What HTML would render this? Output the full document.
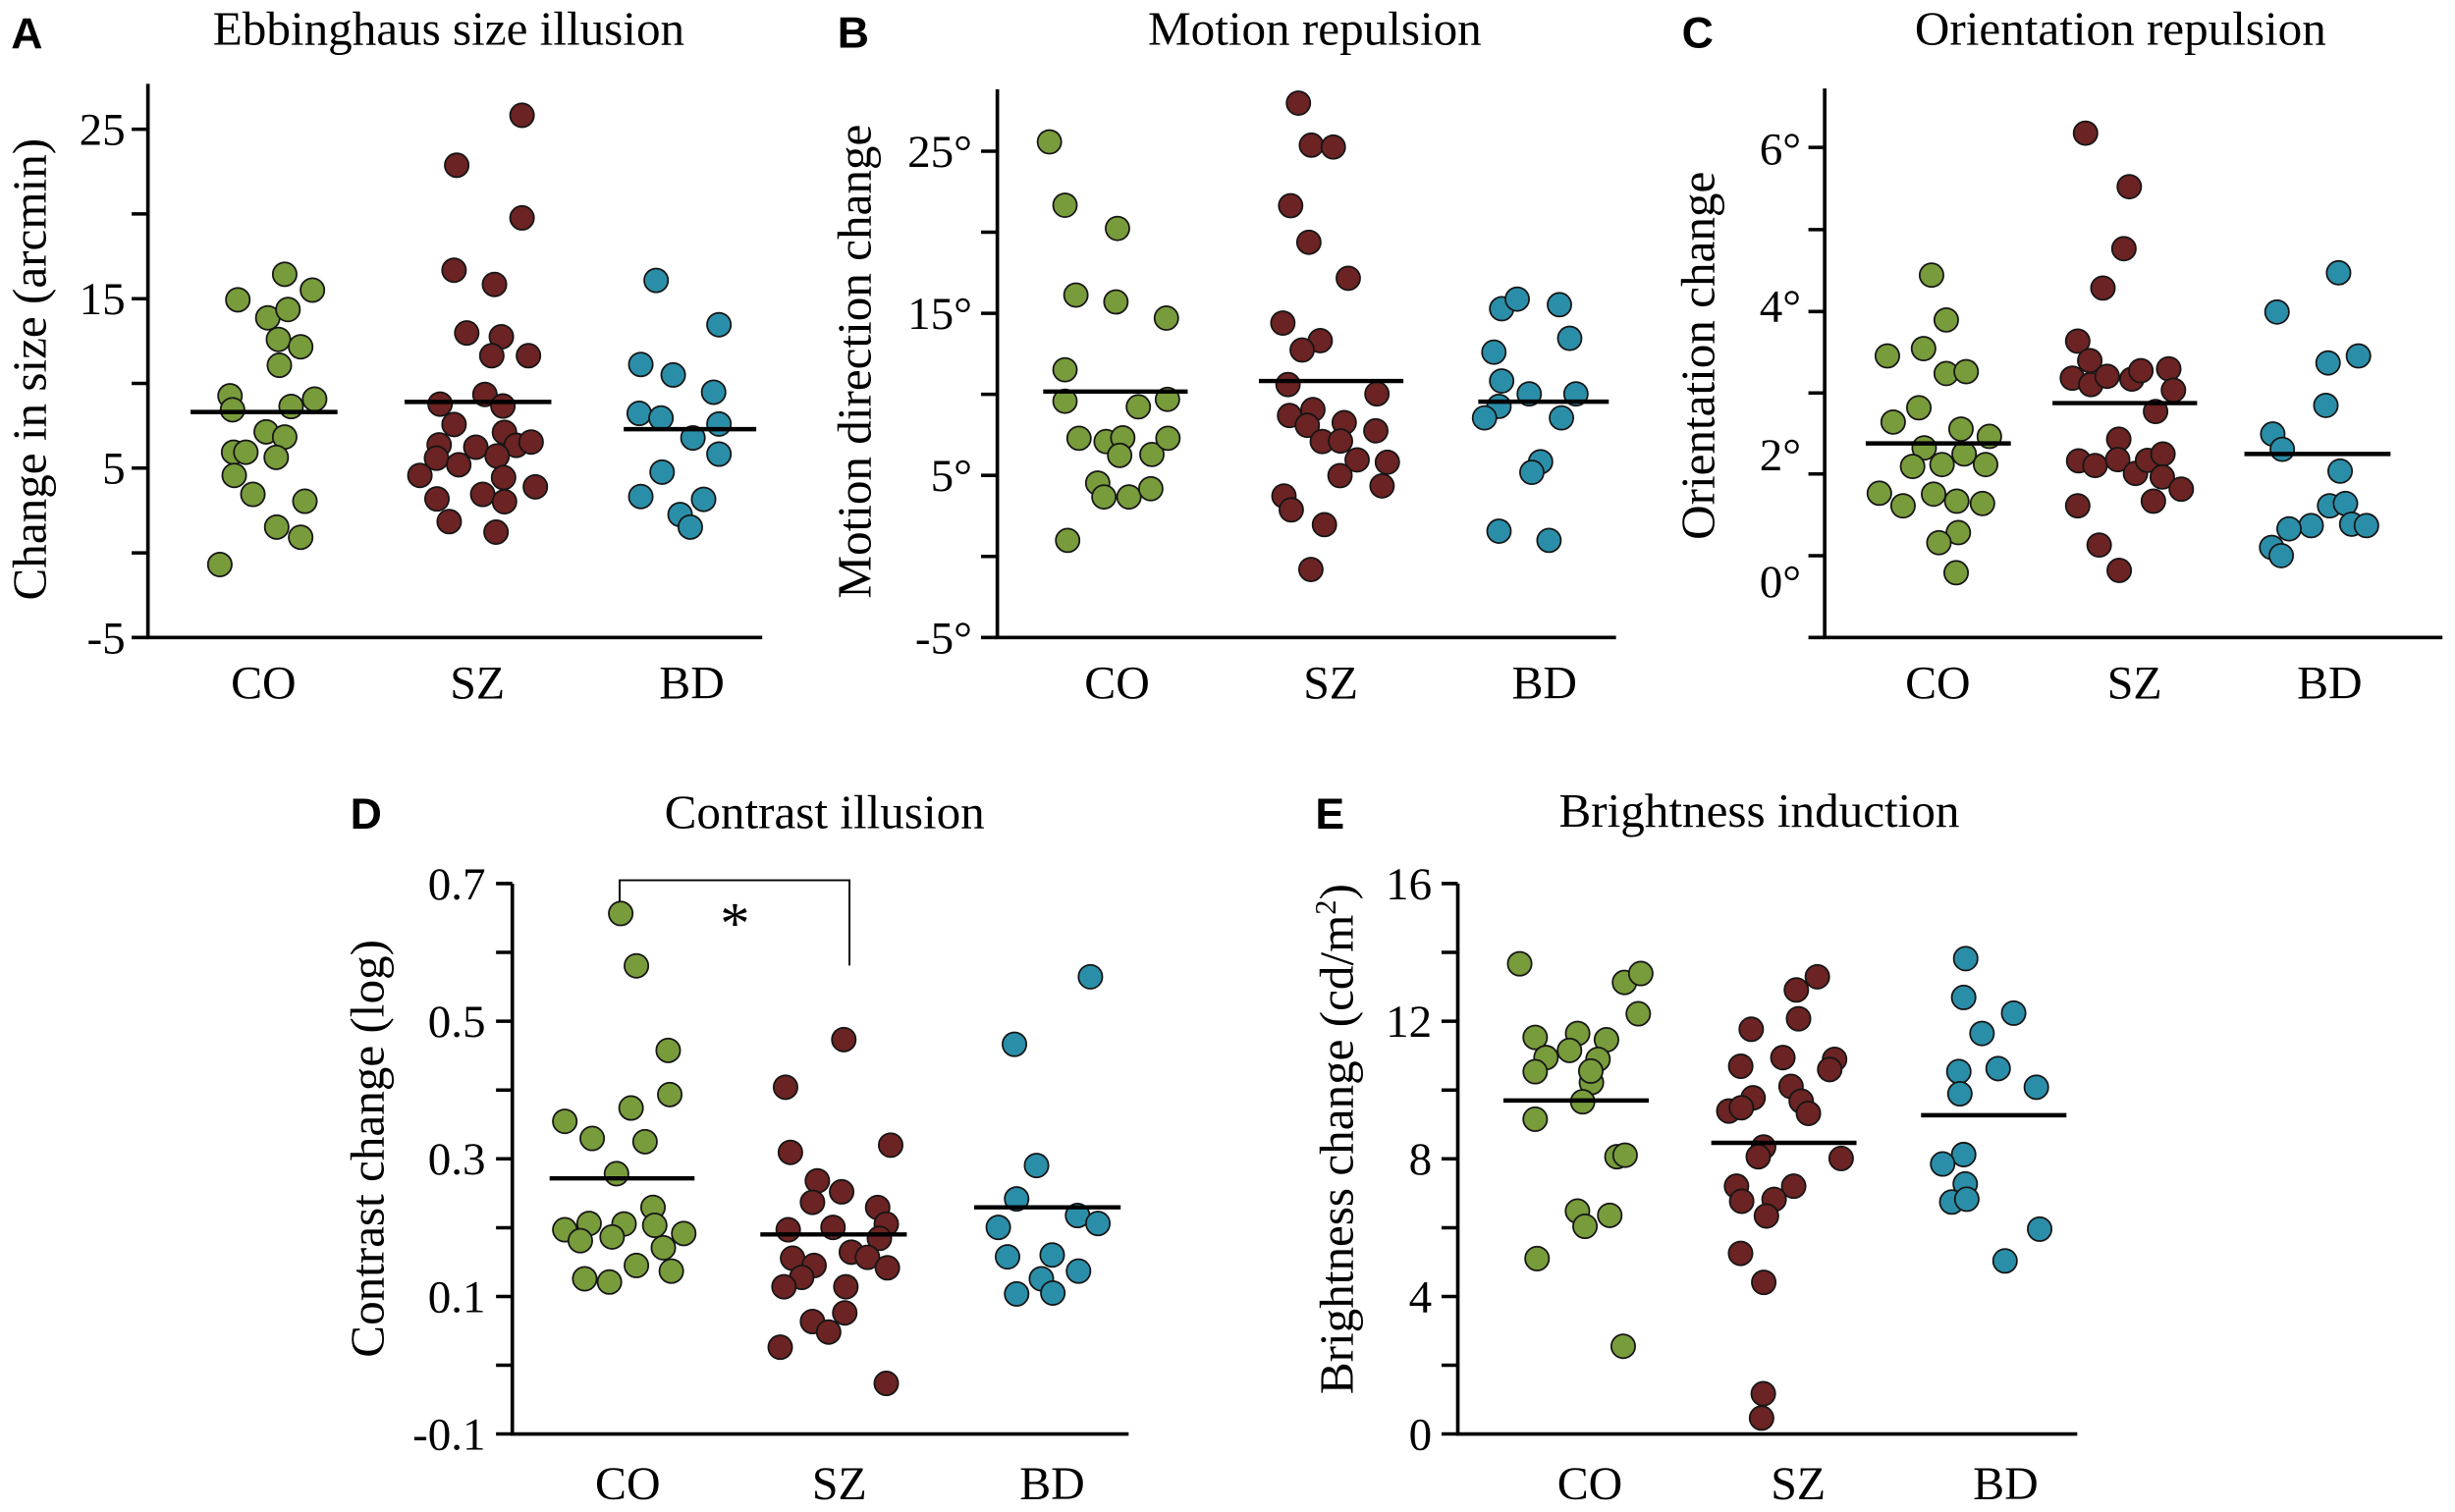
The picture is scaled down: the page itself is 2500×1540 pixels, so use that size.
<!DOCTYPE html>
<html><head><meta charset="utf-8"><style>
html,body{margin:0;padding:0;background:#fff;}
svg{display:block;}
</style></head><body>
<svg xmlns="http://www.w3.org/2000/svg" width="2500" height="1540" viewBox="0 0 1567 965.3">
<style>
text{font-family:"Liberation Serif",serif;fill:#000;}
.tk{font-size:29.5px;text-anchor:end;}
.cat{font-size:30px;text-anchor:middle;}
.ttl{font-size:30.8px;text-anchor:middle;}
.yl{font-size:30.8px;text-anchor:middle;}
.let{font-family:"Liberation Sans",sans-serif;font-weight:bold;font-size:28px;}
.ax{fill:none;stroke:#000;stroke-width:2.3;}
.tick{stroke:#000;stroke-width:2.2;}
.mean{stroke:#000;stroke-width:2.8;}
.g{fill:#789b3b;stroke:#151515;stroke-width:1.1;}
.r{fill:#6b2323;stroke:#151515;stroke-width:1.1;}
.b{fill:#2b8ea8;stroke:#151515;stroke-width:1.1;}
</style>
<rect width="1567" height="965.3" fill="#fff"/>

<!-- ================= PANEL A ================= -->
<text class="let" x="7" y="31">A</text>
<text class="ttl" x="286.4" y="28.5">Ebbinghaus size illusion</text>
<text class="yl" transform="translate(29,235.8) rotate(-90)">Change in size (arcmin)</text>
<path class="ax" d="M94.4,53.5 V407 H486.5"/>
<g class="tick">
<line x1="84" x2="94.4" y1="82.5" y2="82.5"/><line x1="84" x2="94.4" y1="136.6" y2="136.6"/>
<line x1="84" x2="94.4" y1="190.7" y2="190.7"/><line x1="84" x2="94.4" y1="244.8" y2="244.8"/>
<line x1="84" x2="94.4" y1="298.8" y2="298.8"/><line x1="84" x2="94.4" y1="353" y2="353"/>
<line x1="84" x2="94.4" y1="407" y2="407"/>
</g>
<text class="tk" x="80" y="92.5">25</text>
<text class="tk" x="80" y="200.7">15</text>
<text class="tk" x="80" y="308.8">5</text>
<text class="tk" x="80" y="417">-5</text>
<text class="cat" x="168.2" y="446">CO</text>
<text class="cat" x="304.7" y="446">SZ</text>
<text class="cat" x="441.6" y="446">BD</text>
<g>
<circle class="g" cx="151.8" cy="191.4" r="7.6"/><circle class="g" cx="181.7" cy="175.1" r="7.6"/><circle class="g" cx="199.4" cy="185.2" r="7.6"/><circle class="g" cx="170.9" cy="202.9" r="7.6"/><circle class="g" cx="183.8" cy="197.6" r="7.6"/><circle class="g" cx="177.7" cy="216.7" r="7.6"/><circle class="g" cx="191.9" cy="221.4" r="7.6"/><circle class="g" cx="178.3" cy="233.2" r="7.6"/><circle class="g" cx="146.8" cy="252.7" r="7.6"/><circle class="g" cx="148.4" cy="261.6" r="7.6"/><circle class="g" cx="185.8" cy="259.5" r="7.6"/><circle class="g" cx="200.8" cy="254.8" r="7.6"/><circle class="g" cx="169.9" cy="275.7" r="7.6"/><circle class="g" cx="181.7" cy="279" r="7.6"/><circle class="g" cx="149.1" cy="288.7" r="7.6"/><circle class="g" cx="156.9" cy="288.7" r="7.6"/><circle class="g" cx="176.3" cy="292" r="7.6"/><circle class="g" cx="149.5" cy="303.5" r="7.6"/><circle class="g" cx="161.4" cy="315.6" r="7.6"/><circle class="g" cx="194.6" cy="320" r="7.6"/><circle class="g" cx="176.6" cy="336.5" r="7.6"/><circle class="g" cx="191.9" cy="343" r="7.6"/><circle class="g" cx="140.3" cy="360.4" r="7.6"/>
<circle class="r" cx="333.2" cy="73.6" r="7.6"/><circle class="r" cx="291.5" cy="105.5" r="7.6"/><circle class="r" cx="333.2" cy="139.1" r="7.6"/><circle class="r" cx="289.8" cy="172.5" r="7.6"/><circle class="r" cx="315.6" cy="181.6" r="7.6"/><circle class="r" cx="297.9" cy="212.6" r="7.6"/><circle class="r" cx="320" cy="215" r="7.6"/><circle class="r" cx="313.9" cy="227.1" r="7.6"/><circle class="r" cx="337.3" cy="227.1" r="7.6"/><circle class="r" cx="309.5" cy="251.8" r="7.6"/><circle class="r" cx="280.9" cy="258" r="7.6"/><circle class="r" cx="321" cy="259.2" r="7.6"/><circle class="r" cx="289.8" cy="271" r="7.6"/><circle class="r" cx="322" cy="276" r="7.6"/><circle class="r" cx="280.3" cy="284" r="7.6"/><circle class="r" cx="303.7" cy="285.5" r="7.6"/><circle class="r" cx="329.5" cy="284.3" r="7.6"/><circle class="r" cx="339" cy="282.2" r="7.6"/><circle class="r" cx="278.6" cy="292.5" r="7.6"/><circle class="r" cx="292.8" cy="296.7" r="7.6"/><circle class="r" cx="317.3" cy="291.1" r="7.6"/><circle class="r" cx="268" cy="303.5" r="7.6"/><circle class="r" cx="321.4" cy="304.9" r="7.6"/><circle class="r" cx="341.7" cy="310.8" r="7.6"/><circle class="r" cx="278.9" cy="318.5" r="7.6"/><circle class="r" cx="308.1" cy="315.6" r="7.6"/><circle class="r" cx="322" cy="320.3" r="7.6"/><circle class="r" cx="286.7" cy="333" r="7.6"/><circle class="r" cx="316.6" cy="339.7" r="7.6"/>
<circle class="b" cx="418.8" cy="179" r="7.6"/><circle class="b" cx="458.9" cy="207.3" r="7.6"/><circle class="b" cx="409" cy="232.7" r="7.6"/><circle class="b" cx="429.7" cy="239.4" r="7.6"/><circle class="b" cx="455.5" cy="250.4" r="7.6"/><circle class="b" cx="408" cy="263.9" r="7.6"/><circle class="b" cx="421.9" cy="266.9" r="7.6"/><circle class="b" cx="458.9" cy="270.7" r="7.6"/><circle class="b" cx="442.3" cy="279.6" r="7.6"/><circle class="b" cx="458.9" cy="289.9" r="7.6"/><circle class="b" cx="422.6" cy="301.4" r="7.6"/><circle class="b" cx="409" cy="317" r="7.6"/><circle class="b" cx="449.1" cy="318.8" r="7.6"/><circle class="b" cx="434.1" cy="328.5" r="7.6"/><circle class="b" cx="440.6" cy="336.5" r="7.6"/>
</g>
<line class="mean" x1="121.6" x2="215.4" y1="263" y2="263"/>
<line class="mean" x1="258.2" x2="351.9" y1="256.6" y2="256.6"/>
<line class="mean" x1="398.1" x2="482.7" y1="274" y2="274"/>

<!-- ================= PANEL B ================= -->
<text class="let" x="534.5" y="30.5">B</text>
<text class="ttl" x="839.2" y="28.5">Motion repulsion</text>
<text class="yl" transform="translate(555.7,230.8) rotate(-90)">Motion direction change</text>
<path class="ax" d="M636.6,57 V407 H1031.5"/>
<g class="tick">
<line x1="626.2" x2="636.6" y1="96.5" y2="96.5"/><line x1="626.2" x2="636.6" y1="148.25" y2="148.25"/>
<line x1="626.2" x2="636.6" y1="200" y2="200"/><line x1="626.2" x2="636.6" y1="251.75" y2="251.75"/>
<line x1="626.2" x2="636.6" y1="303.5" y2="303.5"/><line x1="626.2" x2="636.6" y1="355.25" y2="355.25"/>
<line x1="626.2" x2="636.6" y1="407" y2="407"/>
</g>
<text class="tk" x="620.5" y="106.5">25°</text>
<text class="tk" x="620.5" y="210">15°</text>
<text class="tk" x="620.5" y="313.5">5°</text>
<text class="tk" x="620.5" y="417">-5°</text>
<text class="cat" x="713" y="446">CO</text>
<text class="cat" x="849.4" y="446">SZ</text>
<text class="cat" x="985.8" y="446">BD</text>
<g transform="matrix(0.99401,0,0,0.99377,3.154,2.536)">
<circle class="g" cx="670.7" cy="88.6" r="7.6"/><circle class="g" cx="680.7" cy="129.3" r="7.6"/><circle class="g" cx="714.4" cy="144.2" r="7.6"/><circle class="g" cx="687.7" cy="187" r="7.6"/><circle class="g" cx="713.4" cy="191.4" r="7.6"/><circle class="g" cx="745.8" cy="201.8" r="7.6"/><circle class="g" cx="680.7" cy="235" r="7.6"/><circle class="g" cx="680.7" cy="255.2" r="7.6"/><circle class="g" cx="727.8" cy="258.8" r="7.6"/><circle class="g" cx="746.5" cy="254" r="7.6"/><circle class="g" cx="689.7" cy="279" r="7.6"/><circle class="g" cx="707.1" cy="281.1" r="7.6"/><circle class="g" cx="717.8" cy="278.7" r="7.6"/><circle class="g" cx="715.8" cy="290" r="7.6"/><circle class="g" cx="736.5" cy="289.4" r="7.6"/><circle class="g" cx="746.8" cy="279" r="7.6"/><circle class="g" cx="701.7" cy="307.8" r="7.6"/><circle class="g" cx="705.7" cy="316.7" r="7.6"/><circle class="g" cx="721.8" cy="316.7" r="7.6"/><circle class="g" cx="735.8" cy="311.4" r="7.6"/><circle class="g" cx="682.4" cy="344.6" r="7.6"/>
<circle class="r" cx="830.6" cy="63.7" r="7.6"/><circle class="r" cx="838.9" cy="90.7" r="7.6"/><circle class="r" cx="853" cy="91.9" r="7.6"/><circle class="r" cx="825.6" cy="129.6" r="7.6"/><circle class="r" cx="837.3" cy="153.1" r="7.6"/><circle class="r" cx="862.6" cy="176.2" r="7.6"/><circle class="r" cx="820.6" cy="205" r="7.6"/><circle class="r" cx="844.6" cy="216.3" r="7.6"/><circle class="r" cx="833" cy="222.3" r="7.6"/><circle class="r" cx="823.9" cy="244.5" r="7.6"/><circle class="r" cx="881" cy="250.5" r="7.6"/><circle class="r" cx="839.9" cy="260.6" r="7.6"/><circle class="r" cx="824.9" cy="264.4" r="7.6"/><circle class="r" cx="836.3" cy="270.7" r="7.6"/><circle class="r" cx="860" cy="268.9" r="7.6"/><circle class="r" cx="880.3" cy="274.2" r="7.6"/><circle class="r" cx="845.9" cy="281.1" r="7.6"/><circle class="r" cx="857.6" cy="280.8" r="7.6"/><circle class="r" cx="868.3" cy="292.9" r="7.6"/><circle class="r" cx="887.7" cy="294.4" r="7.6"/><circle class="r" cx="857.3" cy="303" r="7.6"/><circle class="r" cx="884.3" cy="309.6" r="7.6"/><circle class="r" cx="821.3" cy="316.1" r="7.6"/><circle class="r" cx="826" cy="325" r="7.6"/><circle class="r" cx="847.3" cy="334.5" r="7.6"/><circle class="r" cx="838.6" cy="363.3" r="7.6"/>
<circle class="b" cx="961.1" cy="195.8" r="7.6"/><circle class="b" cx="971.1" cy="189.6" r="7.6"/><circle class="b" cx="998.2" cy="193.2" r="7.6"/><circle class="b" cx="1004.8" cy="214.8" r="7.6"/><circle class="b" cx="956.1" cy="223.7" r="7.6"/><circle class="b" cx="961.1" cy="242.2" r="7.6"/><circle class="b" cx="978.8" cy="250.5" r="7.6"/><circle class="b" cx="1008.8" cy="250.5" r="7.6"/><circle class="b" cx="959.4" cy="258.5" r="7.6"/><circle class="b" cx="950.1" cy="265.9" r="7.6"/><circle class="b" cx="999.5" cy="265.9" r="7.6"/><circle class="b" cx="986.1" cy="294.1" r="7.6"/><circle class="b" cx="980.5" cy="300.9" r="7.6"/><circle class="b" cx="959.4" cy="338.7" r="7.6"/><circle class="b" cx="991.5" cy="344.6" r="7.6"/>
<line class="mean" x1="666.7" x2="759.5" y1="249" y2="249"/>
<line class="mean" x1="805.2" x2="898" y1="242.2" y2="242.2"/>
<line class="mean" x1="946.1" x2="1029.9" y1="255.5" y2="255.5"/>
</g>

<!-- ================= PANEL C ================= -->
<text class="let" x="1073.5" y="30.5">C</text>
<text class="ttl" x="1353.5" y="28.5">Orientation repulsion</text>
<text class="yl" transform="translate(1094.2,227.1) rotate(-90)">Orientation change</text>
<path class="ax" d="M1164.7,56.5 V407 H1559"/>
<g class="tick">
<line x1="1154.3" x2="1164.7" y1="94.1" y2="94.1"/><line x1="1154.3" x2="1164.7" y1="146.6" y2="146.6"/>
<line x1="1154.3" x2="1164.7" y1="198.9" y2="198.9"/><line x1="1154.3" x2="1164.7" y1="250.9" y2="250.9"/>
<line x1="1154.3" x2="1164.7" y1="302.6" y2="302.6"/><line x1="1154.3" x2="1164.7" y1="354.8" y2="354.8"/>
<line x1="1154.3" x2="1164.7" y1="407" y2="407"/>
</g>
<text class="tk" x="1149.6" y="105">6°</text>
<text class="tk" x="1149.6" y="205.4">4°</text>
<text class="tk" x="1149.6" y="300.4">2°</text>
<text class="tk" x="1149.6" y="381">0°</text>
<text class="cat" x="1236.9" y="446">CO</text>
<text class="cat" x="1362.5" y="446">SZ</text>
<text class="cat" x="1487" y="446">BD</text>
<g transform="matrix(1,0,0,0.99377,0,2.536)">
<circle class="g" cx="1232.9" cy="174.2" r="7.6"/><circle class="g" cx="1242.3" cy="203" r="7.6"/><circle class="g" cx="1204.7" cy="226.1" r="7.6"/><circle class="g" cx="1227.8" cy="221.4" r="7.6"/><circle class="g" cx="1242.3" cy="237.4" r="7.6"/><circle class="g" cx="1255" cy="236.2" r="7.6"/><circle class="g" cx="1224.8" cy="259.4" r="7.6"/><circle class="g" cx="1208.4" cy="268.6" r="7.6"/><circle class="g" cx="1251.7" cy="273.1" r="7.6"/><circle class="g" cx="1269.8" cy="277.8" r="7.6"/><circle class="g" cx="1228.2" cy="285.2" r="7.6"/><circle class="g" cx="1253.7" cy="289.1" r="7.6"/><circle class="g" cx="1220.8" cy="297.1" r="7.6"/><circle class="g" cx="1239.6" cy="295.9" r="7.6"/><circle class="g" cx="1267.4" cy="295.9" r="7.6"/><circle class="g" cx="1199.6" cy="314.3" r="7.6"/><circle class="g" cx="1214.7" cy="322.4" r="7.6"/><circle class="g" cx="1234.2" cy="314.9" r="7.6"/><circle class="g" cx="1249" cy="319.4" r="7.6"/><circle class="g" cx="1265.4" cy="320.9" r="7.6"/><circle class="g" cx="1250" cy="339.6" r="7.6"/><circle class="g" cx="1237.6" cy="346.1" r="7.6"/><circle class="g" cx="1248.6" cy="365.4" r="7.6"/>
<circle class="r" cx="1331.2" cy="83" r="7.6"/><circle class="r" cx="1359.1" cy="117.4" r="7.6"/><circle class="r" cx="1355.7" cy="157.2" r="7.6"/><circle class="r" cx="1342.3" cy="182.5" r="7.6"/><circle class="r" cx="1326.2" cy="216.6" r="7.6"/><circle class="r" cx="1333.9" cy="229.1" r="7.6"/><circle class="r" cx="1322.8" cy="240.4" r="7.6"/><circle class="r" cx="1334.6" cy="244.5" r="7.6"/><circle class="r" cx="1345" cy="239.2" r="7.6"/><circle class="r" cx="1360.8" cy="241" r="7.6"/><circle class="r" cx="1366.5" cy="235.6" r="7.6"/><circle class="r" cx="1384.3" cy="234.4" r="7.6"/><circle class="r" cx="1387.3" cy="248.1" r="7.6"/><circle class="r" cx="1375.9" cy="261.8" r="7.6"/><circle class="r" cx="1352.4" cy="279.6" r="7.6"/><circle class="r" cx="1326.8" cy="293.5" r="7.6"/><circle class="r" cx="1337.3" cy="296.5" r="7.6"/><circle class="r" cx="1351.7" cy="292.7" r="7.6"/><circle class="r" cx="1363.1" cy="301.6" r="7.6"/><circle class="r" cx="1370.8" cy="293.2" r="7.6"/><circle class="r" cx="1380.6" cy="289.1" r="7.6"/><circle class="r" cx="1380.2" cy="303.9" r="7.6"/><circle class="r" cx="1392.3" cy="311.7" r="7.6"/><circle class="r" cx="1326.2" cy="322.4" r="7.6"/><circle class="r" cx="1374.5" cy="319.4" r="7.6"/><circle class="r" cx="1339.9" cy="347.6" r="7.6"/><circle class="r" cx="1352.7" cy="363.9" r="7.6"/>
<circle class="b" cx="1492.7" cy="172.7" r="7.6"/><circle class="b" cx="1453.4" cy="197.9" r="7.6"/><circle class="b" cx="1505.4" cy="226.1" r="7.6"/><circle class="b" cx="1486" cy="230.6" r="7.6"/><circle class="b" cx="1484.6" cy="257.9" r="7.6"/><circle class="b" cx="1450.7" cy="276.3" r="7.6"/><circle class="b" cx="1456.8" cy="286.1" r="7.6"/><circle class="b" cx="1493.7" cy="300.1" r="7.6"/><circle class="b" cx="1487" cy="322.4" r="7.6"/><circle class="b" cx="1497.1" cy="320.9" r="7.6"/><circle class="b" cx="1475.2" cy="335.1" r="7.6"/><circle class="b" cx="1461.1" cy="337.2" r="7.6"/><circle class="b" cx="1501.1" cy="334.2" r="7.6"/><circle class="b" cx="1510.5" cy="335.1" r="7.6"/><circle class="b" cx="1450" cy="349.1" r="7.6"/><circle class="b" cx="1456.1" cy="354.4" r="7.6"/>
<line class="mean" x1="1190.9" x2="1283.5" y1="282.3" y2="282.3"/>
<line class="mean" x1="1310.1" x2="1402.4" y1="256.4" y2="256.4"/>
<line class="mean" x1="1432.6" x2="1525.9" y1="289.1" y2="289.1"/>
</g>

<!-- ================= PANEL D ================= -->
<text class="let" x="223.5" y="529">D</text>
<text class="ttl" x="526.3" y="528.6">Contrast illusion</text>
<text class="yl" transform="translate(244.6,733.3) rotate(-90)">Contrast change (log)</text>
<path class="ax" d="M327,564.1 V915.5 H720.4"/>
<g class="tick">
<line x1="316.6" x2="327" y1="564.1" y2="564.1"/><line x1="316.6" x2="327" y1="608" y2="608"/>
<line x1="316.6" x2="327" y1="652" y2="652"/><line x1="316.6" x2="327" y1="695.9" y2="695.9"/>
<line x1="316.6" x2="327" y1="739.8" y2="739.8"/><line x1="316.6" x2="327" y1="783.8" y2="783.8"/>
<line x1="316.6" x2="327" y1="827.7" y2="827.7"/><line x1="316.6" x2="327" y1="871.6" y2="871.6"/>
<line x1="316.6" x2="327" y1="915.5" y2="915.5"/>
</g>
<text class="tk" x="310" y="574.1">0.7</text>
<text class="tk" x="310" y="662">0.5</text>
<text class="tk" x="310" y="749.8">0.3</text>
<text class="tk" x="310" y="837.7">0.1</text>
<text class="tk" x="310" y="925.5">-0.1</text>
<text class="cat" x="400.7" y="957">CO</text>
<text class="cat" x="535.8" y="957">SZ</text>
<text class="cat" x="671.6" y="957">BD</text>
<path d="M395.5,575.6 V562 H542.2 V616.4" fill="none" stroke="#000" stroke-width="1.2"/>
<text x="469.1" y="602" style="font-size:38px;text-anchor:middle;">*</text>
<g>
<circle class="g" cx="396.2" cy="583.2" r="7.6"/><circle class="g" cx="406.2" cy="616.6" r="7.6"/><circle class="g" cx="426.5" cy="670.6" r="7.6"/><circle class="g" cx="427.5" cy="698.8" r="7.6"/><circle class="g" cx="402.8" cy="707.4" r="7.6"/><circle class="g" cx="360.5" cy="715.9" r="7.6"/><circle class="g" cx="378" cy="726.8" r="7.6"/><circle class="g" cx="411.7" cy="728.9" r="7.6"/><circle class="g" cx="393.5" cy="749.3" r="7.6"/><circle class="g" cx="416.8" cy="770.8" r="7.6"/><circle class="g" cx="360.5" cy="785.1" r="7.6"/><circle class="g" cx="376" cy="781.1" r="7.6"/><circle class="g" cx="398.3" cy="781.4" r="7.6"/><circle class="g" cx="417.9" cy="782.3" r="7.6"/><circle class="g" cx="436.4" cy="787.5" r="7.6"/><circle class="g" cx="370.4" cy="792.1" r="7.6"/><circle class="g" cx="390.7" cy="789.7" r="7.6"/><circle class="g" cx="423.4" cy="796.6" r="7.6"/><circle class="g" cx="406.2" cy="807.9" r="7.6"/><circle class="g" cx="428.5" cy="811.5" r="7.6"/><circle class="g" cx="373.2" cy="816.4" r="7.6"/><circle class="g" cx="389" cy="818.5" r="7.6"/>
<circle class="r" cx="538.6" cy="663.7" r="7.6"/><circle class="r" cx="501.4" cy="694.1" r="7.6"/><circle class="r" cx="568.5" cy="731.1" r="7.6"/><circle class="r" cx="504.5" cy="735.7" r="7.6"/><circle class="r" cx="521.7" cy="753.9" r="7.6"/><circle class="r" cx="537.2" cy="760.9" r="7.6"/><circle class="r" cx="518.6" cy="767.6" r="7.6"/><circle class="r" cx="560.2" cy="770.9" r="7.6"/><circle class="r" cx="503.1" cy="785.1" r="7.6"/><circle class="r" cx="531.7" cy="783.6" r="7.6"/><circle class="r" cx="565.7" cy="781.5" r="7.6"/><circle class="r" cx="561.3" cy="790.6" r="7.6"/><circle class="r" cx="505.9" cy="803.3" r="7.6"/><circle class="r" cx="543.4" cy="799.4" r="7.6"/><circle class="r" cx="553.7" cy="802.7" r="7.6"/><circle class="r" cx="519.6" cy="807.9" r="7.6"/><circle class="r" cx="566.4" cy="809.4" r="7.6"/><circle class="r" cx="511.7" cy="815.5" r="7.6"/><circle class="r" cx="500.4" cy="821.5" r="7.6"/><circle class="r" cx="539.9" cy="821.5" r="7.6"/><circle class="r" cx="539.2" cy="838.2" r="7.6"/><circle class="r" cx="518.6" cy="843.7" r="7.6"/><circle class="r" cx="528.9" cy="850.4" r="7.6"/><circle class="r" cx="498" cy="860.1" r="7.6"/><circle class="r" cx="565.7" cy="883.2" r="7.6"/>
<circle class="b" cx="696" cy="623.6" r="7.6"/><circle class="b" cx="647.5" cy="666.7" r="7.6"/><circle class="b" cx="661.6" cy="744.1" r="7.6"/><circle class="b" cx="648.9" cy="765.4" r="7.6"/><circle class="b" cx="637.2" cy="783.6" r="7.6"/><circle class="b" cx="687.8" cy="776" r="7.6"/><circle class="b" cx="700.8" cy="781.1" r="7.6"/><circle class="b" cx="643.1" cy="802.4" r="7.6"/><circle class="b" cx="671.6" cy="801.2" r="7.6"/><circle class="b" cx="688.4" cy="811.5" r="7.6"/><circle class="b" cx="664.7" cy="816.4" r="7.6"/><circle class="b" cx="648.9" cy="826.1" r="7.6"/><circle class="b" cx="672" cy="825.5" r="7.6"/>
</g>
<line class="mean" x1="350.8" x2="443.3" y1="752.3" y2="752.3"/>
<line class="mean" x1="485.3" x2="578.8" y1="788.1" y2="788.1"/>
<line class="mean" x1="621.8" x2="715.3" y1="770.8" y2="770.8"/>

<!-- ================= PANEL E ================= -->
<text class="let" x="839.5" y="529">E</text>
<text class="ttl" x="1122.9" y="527.8">Brightness induction</text>
<text class="yl" transform="translate(863.5,727.2) rotate(-90)">Brightness change (cd/m<tspan dy="-11" style="font-size:19px">2</tspan><tspan dy="11">)</tspan></text>
<path class="ax" d="M930.5,564.1 V915.5 H1325.9"/>
<g class="tick">
<line x1="920.1" x2="930.5" y1="564.1" y2="564.1"/><line x1="920.1" x2="930.5" y1="608" y2="608"/>
<line x1="920.1" x2="930.5" y1="652" y2="652"/><line x1="920.1" x2="930.5" y1="695.9" y2="695.9"/>
<line x1="920.1" x2="930.5" y1="739.8" y2="739.8"/><line x1="920.1" x2="930.5" y1="783.8" y2="783.8"/>
<line x1="920.1" x2="930.5" y1="827.7" y2="827.7"/><line x1="920.1" x2="930.5" y1="871.6" y2="871.6"/>
<line x1="920.1" x2="930.5" y1="915.5" y2="915.5"/>
</g>
<text class="tk" x="914" y="574.1">16</text>
<text class="tk" x="914" y="662">12</text>
<text class="tk" x="914" y="749.8">8</text>
<text class="tk" x="914" y="837.7">4</text>
<text class="tk" x="914" y="925.5">0</text>
<text class="cat" x="1014.8" y="957">CO</text>
<text class="cat" x="1147.8" y="957">SZ</text>
<text class="cat" x="1280.2" y="957">BD</text>
<g>
<circle class="g" cx="970" cy="615.3" r="7.6"/><circle class="g" cx="1036.9" cy="627.2" r="7.6"/><circle class="g" cx="1047.3" cy="621.5" r="7.6"/><circle class="g" cx="1045.7" cy="647.2" r="7.6"/><circle class="g" cx="979.9" cy="662.3" r="7.6"/><circle class="g" cx="1007" cy="659.8" r="7.6"/><circle class="g" cx="1025.4" cy="663.8" r="7.6"/><circle class="g" cx="986.8" cy="675.2" r="7.6"/><circle class="g" cx="1001.8" cy="670.6" r="7.6"/><circle class="g" cx="1020" cy="676.3" r="7.6"/><circle class="g" cx="979.9" cy="684.2" r="7.6"/><circle class="g" cx="1015.8" cy="691.1" r="7.6"/><circle class="g" cx="1015.4" cy="683.8" r="7.6"/><circle class="g" cx="1010.2" cy="703.4" r="7.6"/><circle class="g" cx="979.9" cy="714.5" r="7.6"/><circle class="g" cx="1032.1" cy="738.5" r="7.6"/><circle class="g" cx="1037.3" cy="737.5" r="7.6"/><circle class="g" cx="1006.9" cy="773.2" r="7.6"/><circle class="g" cx="1027.5" cy="775.9" r="7.6"/><circle class="g" cx="1011.7" cy="782.9" r="7.6"/><circle class="g" cx="981.1" cy="803.5" r="7.6"/><circle class="g" cx="1036.1" cy="859.5" r="7.6"/>
<circle class="r" cx="1160" cy="623.6" r="7.6"/><circle class="r" cx="1146.6" cy="632" r="7.6"/><circle class="r" cx="1148" cy="650.4" r="7.6"/><circle class="r" cx="1117.8" cy="657.1" r="7.6"/><circle class="r" cx="1111.1" cy="680.7" r="7.6"/><circle class="r" cx="1138" cy="675.2" r="7.6"/><circle class="r" cx="1171" cy="676.3" r="7.6"/><circle class="r" cx="1167.9" cy="682.8" r="7.6"/><circle class="r" cx="1143.2" cy="693.6" r="7.6"/><circle class="r" cx="1149.7" cy="703" r="7.6"/><circle class="r" cx="1154.3" cy="710.8" r="7.6"/><circle class="r" cx="1119" cy="700.9" r="7.6"/><circle class="r" cx="1103.5" cy="709.3" r="7.6"/><circle class="r" cx="1111.5" cy="707.2" r="7.6"/><circle class="r" cx="1125.7" cy="732.3" r="7.6"/><circle class="r" cx="1122.3" cy="738.5" r="7.6"/><circle class="r" cx="1175.2" cy="739.6" r="7.6"/><circle class="r" cx="1108.4" cy="757.3" r="7.6"/><circle class="r" cx="1111.7" cy="766.9" r="7.6"/><circle class="r" cx="1144.9" cy="757.3" r="7.6"/><circle class="r" cx="1132.4" cy="765.7" r="7.6"/><circle class="r" cx="1127.5" cy="776.3" r="7.6"/><circle class="r" cx="1111" cy="800.2" r="7.6"/><circle class="r" cx="1125.8" cy="818.7" r="7.6"/><circle class="r" cx="1125.5" cy="889.8" r="7.6"/><circle class="r" cx="1124.4" cy="905.3" r="7.6"/>
<circle class="b" cx="1254.7" cy="612" r="7.6"/><circle class="b" cx="1253.4" cy="636.8" r="7.6"/><circle class="b" cx="1285.3" cy="646.8" r="7.6"/><circle class="b" cx="1265.1" cy="659.8" r="7.6"/><circle class="b" cx="1250.3" cy="684.1" r="7.6"/><circle class="b" cx="1275.4" cy="682.2" r="7.6"/><circle class="b" cx="1299.8" cy="694.1" r="7.6"/><circle class="b" cx="1251" cy="698.3" r="7.6"/><circle class="b" cx="1253.4" cy="737.1" r="7.6"/><circle class="b" cx="1240" cy="743.1" r="7.6"/><circle class="b" cx="1254.4" cy="755.9" r="7.6"/><circle class="b" cx="1245.8" cy="767.4" r="7.6"/><circle class="b" cx="1255.4" cy="765.6" r="7.6"/><circle class="b" cx="1301.9" cy="784.7" r="7.6"/><circle class="b" cx="1279.8" cy="805" r="7.6"/>
</g>
<line class="mean" x1="959.6" x2="1052.4" y1="702.6" y2="702.6"/>
<line class="mean" x1="1092.3" x2="1185" y1="729.6" y2="729.6"/>
<line class="mean" x1="1226.2" x2="1319" y1="712" y2="712"/>
</svg>
</body></html>
